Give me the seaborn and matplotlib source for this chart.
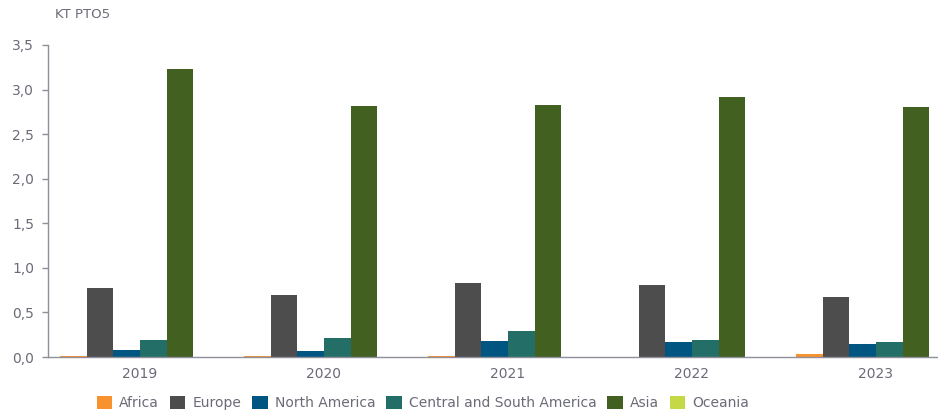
import numpy as np
import pandas as pd
import matplotlib
matplotlib.use("Agg")
import matplotlib.pyplot as plt
import seaborn as sns

years = ["2019", "2020", "2021", "2022", "2023"]
regions = ["Africa", "Europe", "North America", "Central and South America", "Asia", "Oceania"]
africa = [0.015, 0.015, 0.015, 0.0, 0.035]
europe = [0.77, 0.70, 0.83, 0.81, 0.67]
north_america = [0.08, 0.07, 0.18, 0.17, 0.15]
central_south_america = [0.19, 0.21, 0.29, 0.19, 0.17]
asia = [3.23, 2.82, 2.83, 2.92, 2.81]
oceania = [0.0, 0.0, 0.0, 0.0, 0.0]
colors = ["#F7922F", "#4D4D4D", "#005581", "#236E66", "#426020", "#C5D845"]

series = [africa, europe, north_america, central_south_america, asia, oceania]
df = pd.DataFrame(
    [(y, r, v[i]) for r, v in zip(regions, series) for i, y in enumerate(years)],
    columns=["year", "region", "value"],
)

sns.set_theme(style="white")
plt.rcParams["font.family"] = ["DejaVu Sans"]
text_col = "#6b6b78"
axis_col = "#8f8f9c"

fig = plt.figure(figsize=(9.38, 4.15), dpi=100)
ax = fig.add_axes([48 / 938, 1 - 357 / 415, 1 - 48 / 938, (357 - 45) / 415])

sns.barplot(
    data=df, x="year", y="value", hue="region", hue_order=regions,
    palette=colors, width=0.87, ax=ax, saturation=1,
    linewidth=0, legend=True,
)

ax.set_ylim(0, 3.5)
ax.set_xlim(-0.5, 4.337)
ax.set_yticks(np.arange(0, 3.51, 0.5))
ax.set_yticklabels([f"{t:.1f}".replace(".", ",") for t in np.arange(0, 3.51, 0.5)])
ax.set_xlabel("")
ax.set_ylabel("")

for s in ["top", "right"]:
    ax.spines[s].set_visible(False)
for s in ["left", "bottom"]:
    ax.spines[s].set_color(axis_col)
    ax.spines[s].set_linewidth(1.0)

ax.tick_params(axis="y", length=4, width=1, color=axis_col, labelcolor=text_col,
               labelsize=10, pad=6, left=True)
ax.tick_params(axis="x", length=0, labelcolor=text_col, labelsize=10, pad=7)

fig.text(55 / 938, 1 - 15 / 415, "KT PTO5", color=text_col, fontsize=9.5, va="center")

handles, labels = ax.get_legend_handles_labels()
ax.get_legend().remove()
fig.legend(
    handles, labels, loc="center", bbox_to_anchor=(423 / 938, 1 - 403 / 415),
    ncol=6, frameon=False, fontsize=10, labelcolor=text_col,
    handlelength=1.1, handleheight=1.1, handletextpad=0.5, columnspacing=0.8,
)

fig.savefig("out.png", dpi=100)
